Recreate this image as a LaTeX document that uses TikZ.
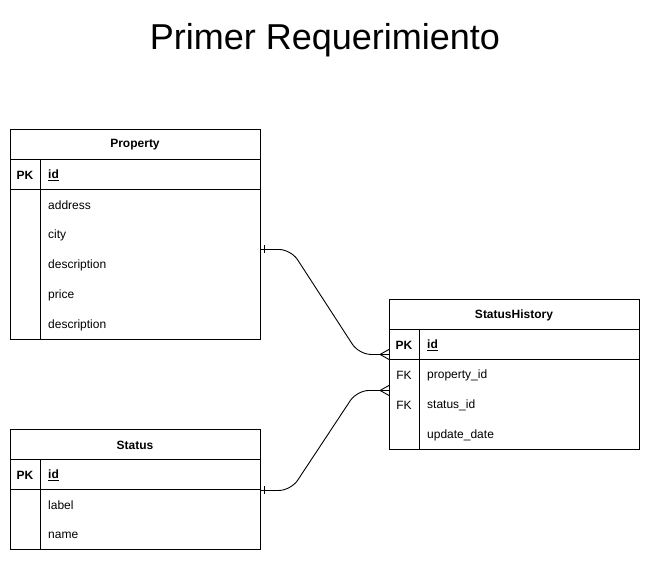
\documentclass[tikz,border=0pt]{standalone}
\usepackage{fontspec}
\setmainfont{Liberation Sans}
\usetikzlibrary{calc}
\begin{document}
\begin{tikzpicture}[x=1pt,y=-1pt,
  tbl/.style={draw=black,line width=0.9pt,minimum width=250pt,inner sep=0pt,anchor=north west},
  sep/.style={draw=black,line width=0.9pt},
  ttl/.style={font=\fontsize{12}{14}\selectfont\bfseries,anchor=center,yshift=-1pt},
  key/.style={font=\fontsize{12}{14}\selectfont\bfseries,anchor=center,yshift=-1pt},
  fkey/.style={font=\fontsize{12}{14}\selectfont,anchor=center,yshift=-1pt},
  fld/.style={font=\fontsize{12}{14}\selectfont,anchor=west,inner sep=0pt,yshift=-1pt},
  conn/.style={draw=black,line width=0.9pt,rounded corners=12pt},
  endmark/.style={draw=black,line width=0.9pt}]
\useasboundingbox (0,0) rectangle (650,562);
\node[font=\fontsize{36}{40}\selectfont] (title) at (325,40) {Primer Requerimiento};

% Property
\node[tbl,minimum height=210pt] (prop) at (10,129) {};
\draw[sep] (10,159) -- (260,159);
\draw[sep] (10,189) -- (260,189);
\draw[sep] (40,159) -- (40,339);
\node[ttl] (propt) at (135,144) {Property};
\node[key] (propk) at (25,174) {PK};
\node[fld] (propid) at (48,174) {\bfseries\underline{id}};
\node[fld] (pa) at (48,204) {address};
\node[fld] (pc) at (48,234) {city};
\node[fld] (pd) at (48,264) {description};
\node[fld] (pp) at (48,294) {price};
\node[fld] (pd2) at (48,324) {description};

% StatusHistory
\node[tbl,minimum height=150pt] (sh) at (389,299) {};
\draw[sep] (389,329) -- (639,329);
\draw[sep] (389,359) -- (639,359);
\draw[sep] (419,329) -- (419,449);
\node[ttl] (sht) at (514,314) {StatusHistory};
\node[key] (shk) at (404,344) {PK};
\node[fld] (shid) at (427,344) {\bfseries\underline{id}};
\node[fkey] (shf1) at (404,374) {FK};
\node[fld] (shp) at (427,374) {property\_id};
\node[fkey] (shf2) at (404,404) {FK};
\node[fld] (shs) at (427,404) {status\_id};
\node[fld] (shu) at (427,434) {update\_date};

% Status
\node[tbl,minimum height=120pt] (st) at (10,429) {};
\draw[sep] (10,459) -- (260,459);
\draw[sep] (10,489) -- (260,489);
\draw[sep] (40,459) -- (40,549);
\node[ttl] (stt) at (135,444) {Status};
\node[key] (stk) at (25,474) {PK};
\node[fld] (stid) at (48,474) {\bfseries\underline{id}};
\node[fld] (stl) at (48,504) {label};
\node[fld] (stn) at (48,534) {name};

% connectors
\coordinate (a1) at ([yshift=-15pt]prop.east);
\coordinate (b1) at ([yshift=20pt]sh.west);
\coordinate (a2) at ([yshift=-1pt]st.east);
\coordinate (b2) at ([yshift=-16pt]sh.west);
\draw[conn] (a1) -- ++(30,0) -- ($(b1)+(-30,0)$) -- (b1);
\draw[conn] (a2) -- ++(30,0) -- ($(b2)+(-32,0)$) -- (b2);
% one markers
\draw[endmark] ($(a1)+(4,-4)$) -- ($(a1)+(4,4)$);
\draw[endmark] ($(a2)+(4,-4)$) -- ($(a2)+(4,4)$);
% many markers
\draw[endmark] ($(b1)+(0,-5)$) -- ($(b1)+(-9,0)$) -- ($(b1)+(0,5)$);
\draw[endmark] ($(b2)+(0,-5)$) -- ($(b2)+(-9,0)$) -- ($(b2)+(0,5)$);
\end{tikzpicture}
\end{document}
